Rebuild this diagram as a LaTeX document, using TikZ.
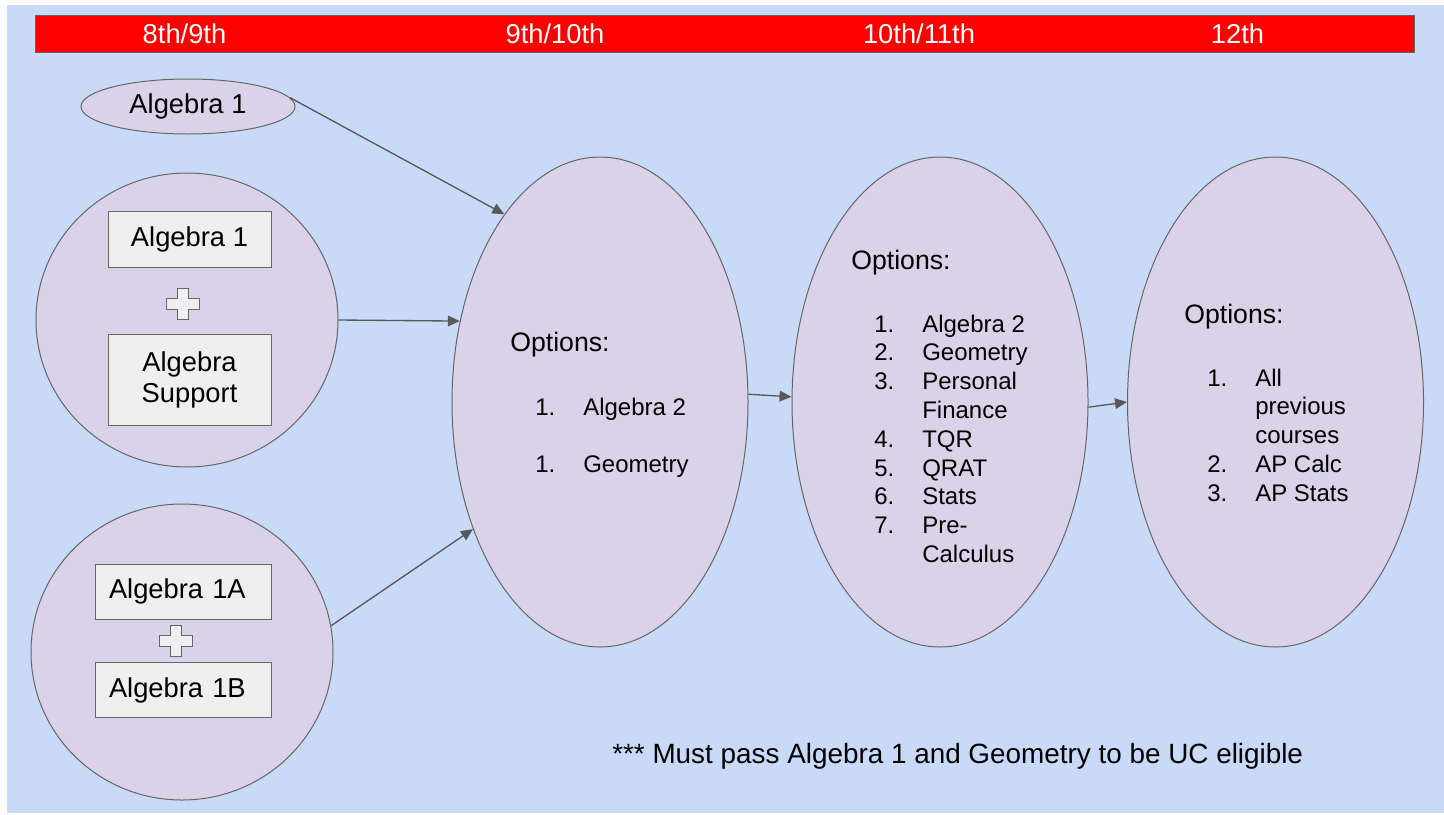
\documentclass[tikz,border=0pt]{standalone}
\usepackage{xcolor}
\usepackage{tikz}
\usepackage{fontspec}
\setmainfont{Liberation Sans}
\usetikzlibrary{shapes.geometric, arrows.meta, positioning, calc}
\definecolor{bgblue}{HTML}{C9DAF8}
\definecolor{lilac}{HTML}{D9D2E9}
\definecolor{boxgray}{HTML}{EFEFEF}
\definecolor{edgegray}{HTML}{666666}
\definecolor{arrowgray}{HTML}{595959}

\begin{document}
\begin{tikzpicture}[
  x=0.75pt, y=-0.75pt,
  bubble/.style={ellipse, draw=edgegray, fill=lilac, line width=0.75pt, inner sep=0pt},
  course/.style={rectangle, draw=edgegray, fill=boxgray, line width=0.75pt, font=\fontsize{20.5}{24}\selectfont, align=center},
  year/.style={font=\fontsize{20.5}{24}\selectfont, text=white, anchor=base, inner sep=0pt},
  head/.style={font=\fontsize{20}{24}\selectfont, anchor=base west, inner sep=0pt},
  list/.style={font=\fontsize{18}{21.6}\selectfont, anchor=base west, inner sep=0pt},
  arrow/.style={-{Triangle[length=9pt,width=8pt]}, draw=arrowgray, line width=1pt},
  plusmark/.pic={
    \draw[edgegray, fill=boxgray, line width=0.75pt] (-5.5,-15.5) -- (5.5,-15.5) -- (5.5,-5.5) -- (16.5,-5.5)
      -- (16.5,5.5) -- (5.5,5.5) -- (5.5,15.5) -- (-5.5,15.5) -- (-5.5,5.5) -- (-16.5,5.5)
      -- (-16.5,-5.5) -- (-5.5,-5.5) -- cycle;
  }
]
  \useasboundingbox (0,0) rectangle (1444,814);
  \fill[white] (0,0) rectangle (1444,814);
  \fill[bgblue] (7,5) rectangle (1444,813);

  % grade bar
  \draw[edgegray, fill=red, line width=0.75pt] (35,15) rectangle (1414,52);
  \node[year] (g89) at (184.5,43) {8th/9th};
  \node[year] (g910) at (555,43) {9th/10th};
  \node[year] (g1011) at (919,43) {10th/11th};
  \node[year] (g12) at (1237.5,43) {12th};

  % starting courses
  \node[bubble, minimum width=160.5pt, minimum height=41.25pt, font=\fontsize{20.5}{24}\selectfont] (alg1) at (188,106.5) {Algebra 1};
  \node[bubble, minimum width=226.5pt, minimum height=220.5pt] (supp) at (187,320) {};
  \node[bubble, minimum width=226.5pt, minimum height=222pt] (split) at (182,652) {};

  \node[course, minimum width=122.25pt, minimum height=42pt] (alg1box) at (189.5,239) {Algebra 1};
  \pic at (182.5,303.5) {plusmark};
  \node[course, minimum width=122.25pt, minimum height=68.25pt, font=\fontsize{20.5}{23.5}\selectfont] (suppbox) at (189.5,380) {Algebra\\Support};

  \node[course, minimum height=41.25pt, text width=111pt, inner xsep=10.5pt, align=left] (alg1a) at (183,591.5) {Algebra 1A};
  \pic at (176,641) {plusmark};
  \node[course, minimum height=41.25pt, text width=111pt, inner xsep=10.5pt, align=left] (alg1b) at (183,690) {Algebra 1B};

  % option bubbles
  \node[bubble, minimum width=222pt, minimum height=367.5pt] (opt910) at (600,402) {};
  \node[bubble, minimum width=222pt, minimum height=367.5pt] (opt1011) at (940,402) {};
  \node[bubble, minimum width=222pt, minimum height=367.5pt] (opt12) at (1275.5,402) {};

  \node[head] (hd910) at (510,351) {Options:};
  \node[list] (ls910) at (535,415) {\begin{tabular}[t]{@{}p{36pt}@{}l@{}}
    1. & Algebra 2\\
       & \\
    1. & Geometry
  \end{tabular}};

  \node[head] (hd1011) at (851,269) {Options:};
  \node[list] (ls1011) at (874,332) {\begin{tabular}[t]{@{}p{36pt}@{}l@{}}
    1. & Algebra 2\\
    2. & Geometry\\
    3. & Personal\\
       & Finance\\
    4. & TQR\\
    5. & QRAT\\
    6. & Stats\\
    7. & Pre-\\
       & Calculus
  \end{tabular}};

  \node[head] (hd12) at (1184,323) {Options:};
  \node[list] (ls12) at (1207,386) {\begin{tabular}[t]{@{}p{36pt}@{}l@{}}
    1. & All\\
       & previous\\
       & courses\\
    2. & AP Calc\\
    3. & AP Stats
  \end{tabular}};

  \node[head, font=\fontsize{20.9}{24}\selectfont] (note) at (612,763) {*** Must pass Algebra 1 and Geometry to be UC eligible};

  % connectors
  \draw[arrow] (alg1.5) -- (opt910.117);
  \draw[arrow] (supp.east) -- (opt910.150);
  \draw[arrow] (split.10) -- (opt910.225);
  \draw[arrow] (opt910.3) -- (opt1011.178);
  \draw[arrow] (opt1011.-2) -- (opt12.180);
\end{tikzpicture}
\end{document}
